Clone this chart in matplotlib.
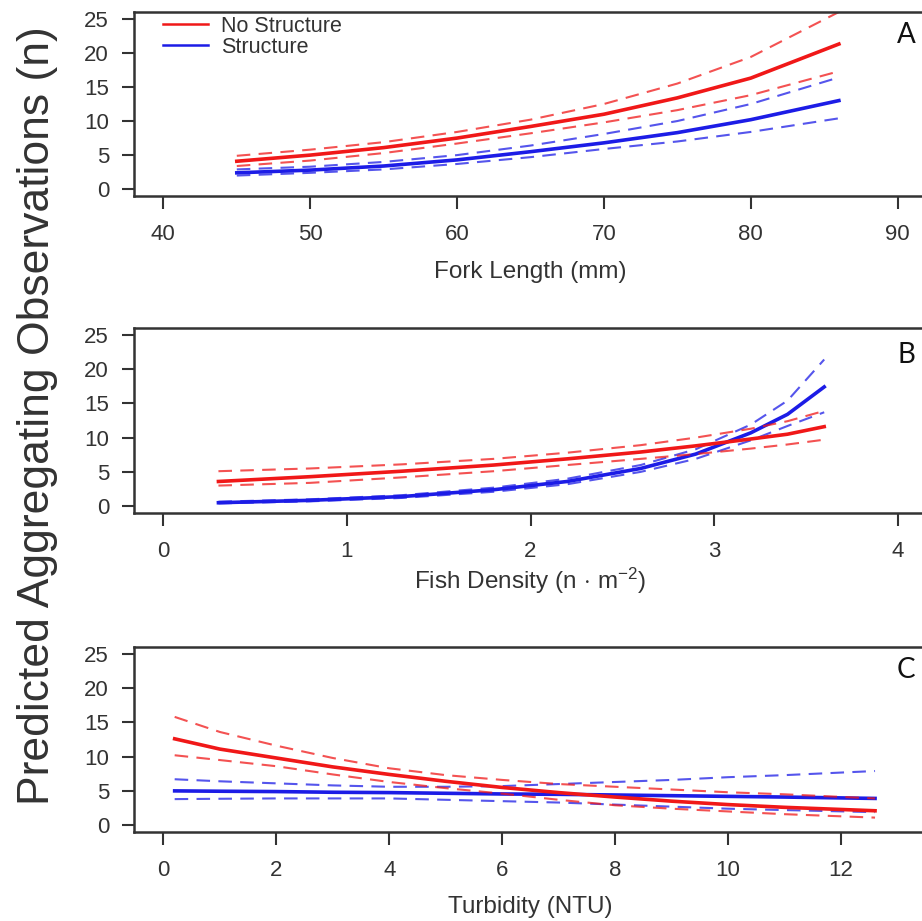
import matplotlib
matplotlib.use('Agg')
import matplotlib.pyplot as plt

plt.rcParams['font.family'] = ['Liberation Sans', 'DejaVu Sans']
plt.rcParams['mathtext.fontset'] = 'custom'
plt.rcParams['mathtext.rm'] = 'Liberation Sans'
plt.rcParams['mathtext.it'] = 'Liberation Sans:italic'

# panel A: fork length
fork_len = [45, 50, 55, 60, 65, 70, 75, 80, 86]
a_ns_fit = [4.1, 5.0, 6.1, 7.5, 9.2, 11.0, 13.4, 16.3, 21.3]
a_ns_hi = [4.9, 5.8, 6.9, 8.4, 10.2, 12.5, 15.5, 19.4, 26.0]
a_ns_lo = [3.4, 4.2, 5.3, 6.7, 8.2, 9.8, 11.6, 13.8, 17.3]
a_st_fit = [2.4, 2.8, 3.4, 4.3, 5.5, 6.8, 8.3, 10.2, 13.0]
a_st_hi = [2.9, 3.3, 4.0, 5.0, 6.4, 8.1, 10.0, 12.5, 16.4]
a_st_lo = [2.0, 2.4, 2.9, 3.7, 4.7, 5.9, 7.0, 8.4, 10.4]

# panel B: fish density
density = [0.3, 0.8, 1.3, 1.8, 2.2, 2.6, 2.9, 3.2, 3.4, 3.6]
b_ns_fit = [3.6, 4.3, 5.1, 6.0, 6.9, 7.9, 8.8, 9.8, 10.5, 11.6]
b_ns_hi = [5.1, 5.5, 6.1, 6.9, 7.8, 8.9, 10.0, 11.3, 12.4, 13.9]
b_ns_lo = [3.0, 3.4, 4.2, 5.1, 6.0, 6.9, 7.6, 8.4, 9.0, 9.7]
b_st_fit = [0.5, 0.85, 1.4, 2.4, 3.6, 5.5, 7.6, 10.7, 13.4, 17.4]
b_st_hi = [0.65, 1.0, 1.6, 2.7, 4.0, 6.0, 8.3, 11.9, 15.4, 21.4]
b_st_lo = [0.4, 0.7, 1.2, 2.1, 3.2, 5.0, 6.9, 9.6, 11.7, 13.7]

# panel C: turbidity
turbidity = [0.2, 1, 2, 3, 4, 5, 6, 7, 8, 9, 10, 11, 12.6]
c_ns_fit = [12.6, 11.1, 9.8, 8.5, 7.4, 6.4, 5.5, 4.75, 4.1, 3.5, 3.0, 2.6, 2.1]
c_ns_hi = [15.8, 13.6, 11.6, 9.8, 8.3, 7.3, 6.6, 6.0, 5.6, 5.2, 4.8, 4.5, 3.9]
c_ns_lo = [10.2, 9.5, 8.6, 7.4, 6.3, 5.4, 4.6, 3.7, 2.9, 2.4, 2.0, 1.6, 1.1]
c_st_fit = [5.0, 4.95, 4.9, 4.8, 4.75, 4.65, 4.55, 4.5, 4.4, 4.3, 4.2, 4.1, 3.9]
c_st_hi = [6.7, 6.4, 6.1, 5.8, 5.6, 5.6, 5.7, 6.0, 6.3, 6.6, 7.0, 7.3, 7.9]
c_st_lo = [3.8, 3.85, 3.9, 3.9, 3.9, 3.7, 3.5, 3.3, 3.0, 2.7, 2.4, 2.2, 1.9]

yticks = [0, 5, 10, 15, 20, 25]
RED = '#f01818'
BLUE = '#1c1ce6'
INK = '#333333'

fig = plt.figure(figsize=(9.22, 9.21), dpi=100)
W, H = 922.0, 921.0


def make_ax(top, bot):
    return fig.add_axes([134 / W, 1 - bot / H, (927 - 134) / W, (bot - top) / H])


panels = [
    (make_ax(12, 196), fork_len, (a_ns_fit, a_ns_hi, a_ns_lo), (a_st_fit, a_st_hi, a_st_lo),
     (38, 92), [40, 50, 60, 70, 80, 90], 'Fork Length (mm)', 278, 'A', 35),
    (make_ax(328, 513), density, (b_ns_fit, b_ns_hi, b_ns_lo), (b_st_fit, b_st_hi, b_st_lo),
     (-0.16, 4.16), [0, 1, 2, 3, 4], r'Fish Density (n$\,\cdot\,$m$^{-2}$)', 589, 'B', 355),
    (make_ax(647, 832), turbidity, (c_ns_fit, c_ns_hi, c_ns_lo), (c_st_fit, c_st_hi, c_st_lo),
     (-0.52, 13.52), [0, 2, 4, 6, 8, 10, 12], 'Turbidity (NTU)', 913, 'C', 670),
]

for ax, x, ns, st, xlim, xt, xlab, lab_y, letter, let_y in panels:
    for (fit, hi, lo), col in [(st, BLUE), (ns, RED)]:
        ax.plot(x, hi, color=col, lw=1.5, ls=(0, (6.5, 4)), alpha=0.75)
        ax.plot(x, lo, color=col, lw=1.5, ls=(0, (6.5, 4)), alpha=0.75)
        ax.plot(x, fit, color=col, lw=2.6)
    ax.set_xlim(*xlim)
    ax.set_ylim(-1, 26)
    ax.set_xticks(xt)
    ax.set_yticks(yticks)
    for s in ax.spines.values():
        s.set_color(INK)
        s.set_linewidth(1.8)
    ax.tick_params(direction='out', length=9, width=1.5, color=INK,
                   labelsize=16, labelcolor=INK)
    ax.tick_params(axis='x', pad=11)
    ax.tick_params(axis='y', pad=9)
    ax.set_xlabel(xlab, fontsize=17.5, color=INK, va='baseline')
    top_px = (1 - ax.get_position().y1) * H
    bot_px = (1 - ax.get_position().y0) * H
    ax.xaxis.set_label_coords(0.5, (bot_px - lab_y) / (bot_px - top_px))
    fig.text(906 / W, 1 - let_y / H, letter, fontsize=20, family=['Lato', 'DejaVu Sans'],
             color='#111111', ha='center', va='center')

ax_a = panels[0][0]
ax_a.plot([], [], color=RED, lw=1.8, label='No Structure')
ax_a.plot([], [], color=BLUE, lw=1.8, label='Structure')
handles, labels = ax_a.get_legend_handles_labels()
ax_a.legend(handles[-2:], labels[-2:], loc='upper left', frameon=False,
            bbox_to_anchor=(163 / W, 1 - 16 / H), bbox_transform=fig.transFigure,
            borderpad=0, borderaxespad=0, handlelength=2.1, handletextpad=0.6,
            labelspacing=0.0, fontsize=15.5, labelcolor=INK)

fig.text(38 / W, 1 - 416 / H, 'Predicted Aggregating Observations (n)', rotation=90,
         fontsize=32, color=INK, ha='center', va='center')

fig.savefig('out.png', dpi=100)
